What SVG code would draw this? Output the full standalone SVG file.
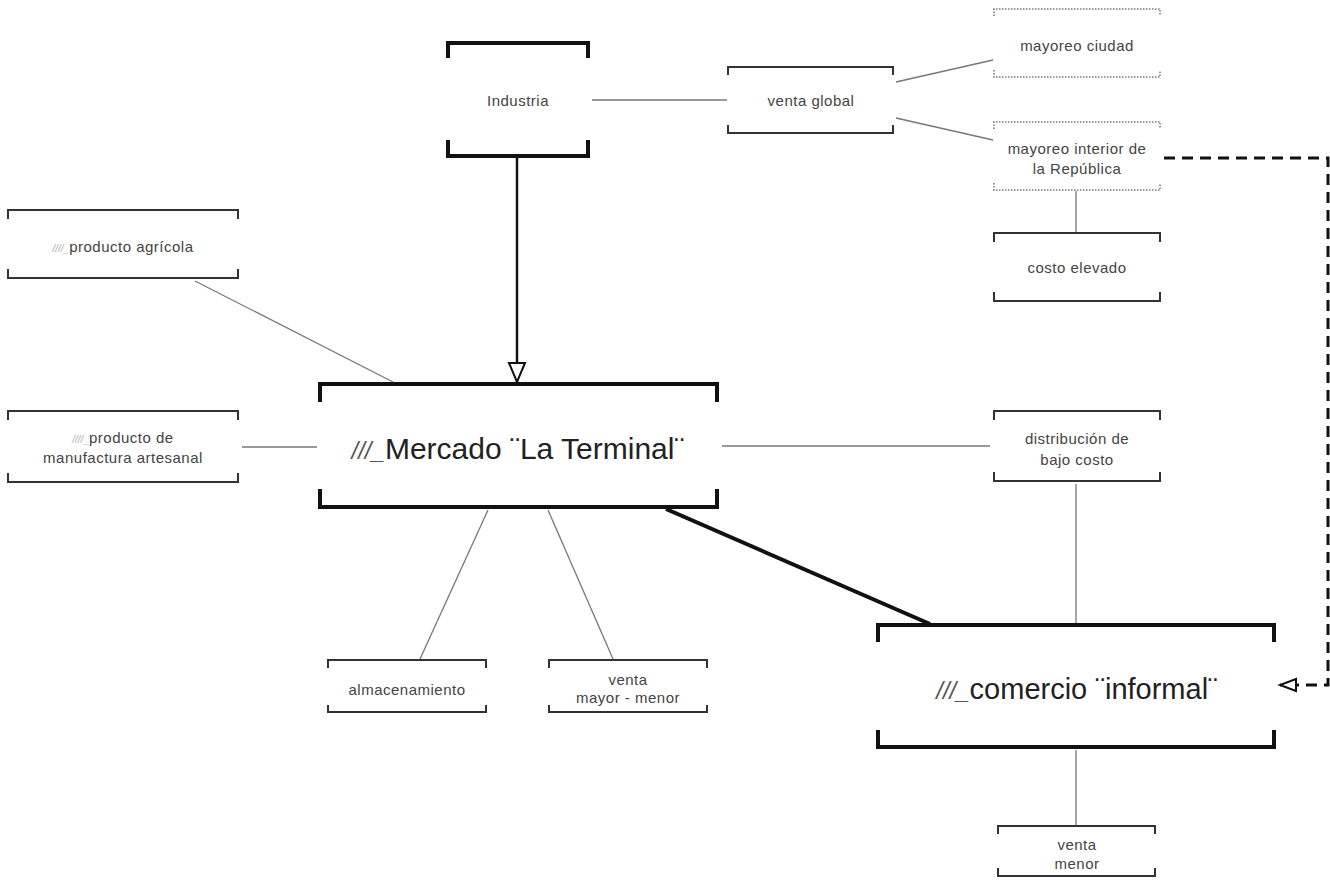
<svg xmlns="http://www.w3.org/2000/svg" width="1330" height="882" viewBox="0 0 1330 882">
<defs>
<style>
.bg{fill:#ffffff}
.br{fill:none;stroke:#333;stroke-width:2;stroke-linecap:square}
.brH{fill:none;stroke:#111;stroke-width:4;stroke-linecap:square}
.brD{fill:none;stroke:#999;stroke-width:2;stroke-dasharray:1.5 1.5}
.t{font-family:"Liberation Sans",Arial,sans-serif;font-size:15px;letter-spacing:0.5px;fill:#444;text-anchor:middle}
.tb{font-family:"Liberation Sans",Arial,sans-serif;fill:#222;text-anchor:middle}
.pre{fill:#aaa;font-style:italic;font-size:10px;letter-spacing:0}
.preB{font-style:italic;fill:#555}
.ln{stroke:#777;stroke-width:1.3;fill:none}
.lnH{stroke:#111;stroke-width:2.5;fill:none}
.lnX{stroke:#111;stroke-width:4;fill:none}
.dash{stroke:#111;stroke-width:3;fill:none;stroke-dasharray:11 7}
</style>
<marker id="tri" markerWidth="24" markerHeight="24" refX="21" refY="10" orient="auto" markerUnits="userSpaceOnUse">
<path d="M2,2 L21,10 L2,18 Z" fill="#fff" stroke="#111" stroke-width="2"/>
</marker>
<marker id="triS" markerWidth="22" markerHeight="18" refX="18" refY="8" orient="auto" markerUnits="userSpaceOnUse">
<path d="M2,2 L18,8 L2,14 Z" fill="#fff" stroke="#111" stroke-width="2"/>
</marker>
</defs>
<rect class="bg" x="0" y="0" width="1330" height="882"/>

<g id="connectors">
<line class="ln" x1="592" y1="100" x2="727" y2="100"/>
<line class="ln" x1="896" y1="82" x2="993" y2="60"/>
<line class="ln" x1="896" y1="118" x2="993" y2="140"/>
<line class="ln" x1="1076" y1="191" x2="1076" y2="232"/>
<line class="ln" x1="195" y1="281" x2="393" y2="382"/>
<line class="ln" x1="242" y1="447" x2="317" y2="447"/>
<line class="ln" x1="722" y1="446" x2="990" y2="446"/>
<line class="ln" x1="1076" y1="484" x2="1076" y2="623"/>
<line class="ln" x1="488" y1="510" x2="420" y2="659"/>
<line class="ln" x1="548" y1="510" x2="613" y2="659"/>
<line class="ln" x1="1076" y1="750" x2="1076" y2="825"/>
<line class="lnX" x1="666" y1="509" x2="930" y2="624"/>
<line class="lnH" x1="517" y1="158" x2="517" y2="382" marker-end="url(#tri)"/>
<polyline class="dash" points="1164,158 1328,158 1328,685 1280,685" marker-end="url(#triS)"/>
</g>

<g id="industria">
<path class="brH" d="M448,56 V43 H588 V56 M448,142 V156 H588 V142"/>
<text class="t" x="518" y="106">Industria</text>
</g>

<g id="venta-global">
<path class="br" d="M728,74 V67 H893 V74 M728,126 V133 H893 V126"/>
<text class="t" x="811" y="106">venta global</text>
</g>

<g id="mayoreo-ciudad">
<path class="brD" d="M994,16 V9 H1160 V16 M994,70 V77 H1160 V70"/>
<text class="t" x="1077" y="51">mayoreo ciudad</text>
</g>

<g id="mayoreo-interior">
<path class="brD" d="M994,129 V122 H1160 V129 M994,183 V190 H1160 V183"/>
<text class="t" x="1077" y="154">mayoreo interior de</text>
<text class="t" x="1077" y="174">la República</text>
</g>

<g id="costo-elevado">
<path class="br" d="M994,241 V233 H1160 V241 M994,293 V301 H1160 V293"/>
<text class="t" x="1077" y="273">costo elevado</text>
</g>

<g id="producto-agricola">
<path class="br" d="M8,218 V210 H238 V218 M8,270 V278 H238 V270"/>
<text class="t" x="123" y="252"><tspan class="pre">////_</tspan>producto agrícola</text>
</g>

<g id="producto-manufactura">
<path class="br" d="M8,419 V411 H238 V419 M8,474 V482 H238 V474"/>
<text class="t" x="123" y="443"><tspan class="pre">////_</tspan>producto de</text>
<text class="t" x="123" y="463">manufactura artesanal</text>
</g>

<g id="mercado">
<path class="brH" d="M320,400 V384 H717 V400 M320,491 V507 H717 V491"/>
<text class="tb" x="518" y="459" font-size="30"><tspan class="preB" font-size="24">///_</tspan>Mercado ¨La Terminal¨</text>
</g>

<g id="distribucion">
<path class="br" d="M994,419 V411 H1160 V419 M994,473 V481 H1160 V473"/>
<text class="t" x="1077" y="444">distribución de</text>
<text class="t" x="1077" y="465">bajo costo</text>
</g>

<g id="almacenamiento">
<path class="br" d="M328,667 V660 H486 V667 M328,706 V712 H486 V706"/>
<text class="t" x="407" y="695">almacenamiento</text>
</g>

<g id="venta-mayor-menor">
<path class="br" d="M549,667 V660 H707 V667 M549,706 V712 H707 V706"/>
<text class="t" x="628" y="685">venta</text>
<text class="t" x="628" y="703">mayor - menor</text>
</g>

<g id="comercio">
<path class="brH" d="M878,640 V625 H1274 V640 M878,732 V747 H1274 V732"/>
<text class="tb" x="1077" y="699" font-size="29"><tspan class="preB" font-size="24">///_</tspan>comercio ¨informal¨</text>
</g>

<g id="venta-menor">
<path class="br" d="M998,833 V826 H1155 V833 M998,869 V876 H1155 V869"/>
<text class="t" x="1077" y="850">venta</text>
<text class="t" x="1077" y="869">menor</text>
</g>
</svg>
